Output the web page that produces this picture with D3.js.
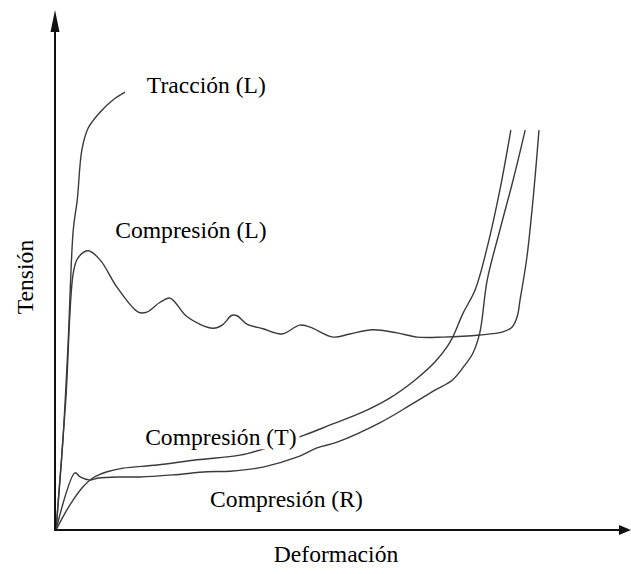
<!DOCTYPE html>
<html>
<head>
<meta charset="utf-8">
<script src="https://cdn.jsdelivr.net/npm/d3@7"></script>
<style>
  html, body { margin: 0; padding: 0; background: #fff; }
  svg { display: block; }
  text { font-family: "Liberation Serif", "Times New Roman", serif; fill: #000; }
</style>
</head>
<body>
<svg id="chart" width="631" height="574"></svg>
<script>
// ---- Data (schematic stress–strain curves, arbitrary units 0–100) ----
const traccionL = [[0,0],[1.2,17.3],[2.1,35.8],[3.0,57.7],[3.7,63.5],[4.5,73.1],[5.6,77.3],[7.7,80.4],[9.9,82.7],[12.0,84.2]];

const compresionL = [[0,0],[1.7,25.0],[3.0,49.4],[3.8,52.3],[5.6,53.7],[7.7,51.9],[10.6,46.7],[14.3,41.9],[15.8,41.9],
  [18.1,43.8],[19.8,44.6],[20.7,43.8],[22.8,41.0],[27.3,38.8],[28.9,39.4],[30.6,41.3],[31.5,41.2],[33.2,39.6],
  [36.0,38.7],[39.3,37.7],[42.4,39.4],[44.2,39.0],[48.2,37.1],[51.1,37.7],[55.1,38.5],[59.3,37.9],[62.8,37.1],
  [67.3,37.1],[73.7,37.5],[77.7,38.1],[79.3,39.0],[80.2,41.0],[80.7,44.2],[81.9,52.5],[83.0,64.0],[84.0,76.9]];

const compresionT = [[0,0],[1.6,3.3],[3.0,5.8],[4.7,8.3],[6.4,10.0],[8.9,11.2],[11.7,11.9],[17.6,12.5],[24.5,13.5],
  [32.0,14.4],[36.7,15.8],[43.3,18.3],[47.7,20.2],[53.4,22.7],[58.1,25.4],[62.4,28.8],[65.9,32.3],[68.0,35.2],
  [69.0,37.1],[70.8,41.7],[72.9,46.2],[75.0,54.4],[77.2,65.4],[79.1,76.9]];

const compresionR = [[0,0],[3.3,11.0],[4.2,10.2],[5.9,9.6],[7.3,10.0],[11.7,10.2],[14.6,10.2],[20.3,10.6],[26.3,11.2],
  [30.3,11.3],[36.0,12.1],[41.9,14.0],[45.4,15.8],[48.9,16.9],[56.3,20.6],[61.6,24.0],[65.9,26.9],[68.9,28.8],
  [71.1,31.7],[72.5,34.0],[73.7,37.9],[75.0,48.1],[77.2,57.7],[79.5,67.3],[81.6,76.9]];

const seriesNames = ["Tracción (L)", "Compresión (L)", "Compresión (T)", "Compresión (R)"];
const xTitle = "Deformación";
const yTitle = "Tensión";

// label anchors in data units (text start, baseline)
const labelAnchors = [[15.8,84.0],[10.3,56.2],[15.5,16.3],[26.8,4.4]];

// ---- Layout ----
const svg = d3.select("#chart");
const x = d3.scaleLinear().domain([0,100]).range([56,631]);
const y = d3.scaleLinear().domain([0,100]).range([530,10]);

const line = d3.line()
  .x(d => x(d[0]))
  .y(d => y(d[1]))
  .curve(d3.curveCatmullRom.alpha(0.5));

const allSeries = [traccionL, compresionL, compresionT, compresionR];

// curves
svg.append("g").selectAll("path")
  .data(allSeries)
  .join("path")
  .attr("d", line)
  .attr("fill", "none")
  .attr("stroke", "#3a3a3a")
  .attr("stroke-width", 1.4)
  .attr("stroke-linejoin", "round");

// axes
const ax = svg.append("g");
const x0 = x(0) - 1, y0 = y(0);
ax.append("line").attr("x1", x0).attr("y1", y0 + 1).attr("x2", x0).attr("y2", y(100) + 18)
  .attr("stroke", "#111").attr("stroke-width", 2);
ax.append("path")
  .attr("d", `M${x0},${y(100)} L${x0 - 4.5},${y(100) + 22} L${x0 + 4.5},${y(100) + 22} Z`)
  .attr("fill", "#111");
ax.append("line").attr("x1", x0 - 1).attr("y1", y0).attr("x2", x(100) - 10).attr("y2", y0)
  .attr("stroke", "#111").attr("stroke-width", 2);
ax.append("path")
  .attr("d", `M${x(100)},${y0} L${x(100) - 12},${y0 - 5} L${x(100) - 12},${y0 + 5} Z`)
  .attr("fill", "#111");

// series labels
const fs = 23.6;
const lg = svg.append("g");
seriesNames.forEach((name, i) => {
  const g = lg.append("g");
  const bg = g.append("rect").attr("fill", "#fff");
  const t = g.append("text")
    .attr("x", x(labelAnchors[i][0]))
    .attr("y", y(labelAnchors[i][1]))
    .attr("font-size", fs)
    .text(name);
  const bb = t.node().getBBox();
  bg.attr("x", bb.x - 1).attr("y", bb.y + 2).attr("width", bb.width + 4).attr("height", bb.height - 3);
});

// axis titles
svg.append("text")
  .attr("x", 336).attr("y", 562)
  .attr("text-anchor", "middle")
  .attr("font-size", fs)
  .text(xTitle);

svg.append("text")
  .attr("transform", "translate(33,277) rotate(-90)")
  .attr("text-anchor", "middle")
  .attr("font-size", fs)
  .text(yTitle);
</script>
</body>
</html>
